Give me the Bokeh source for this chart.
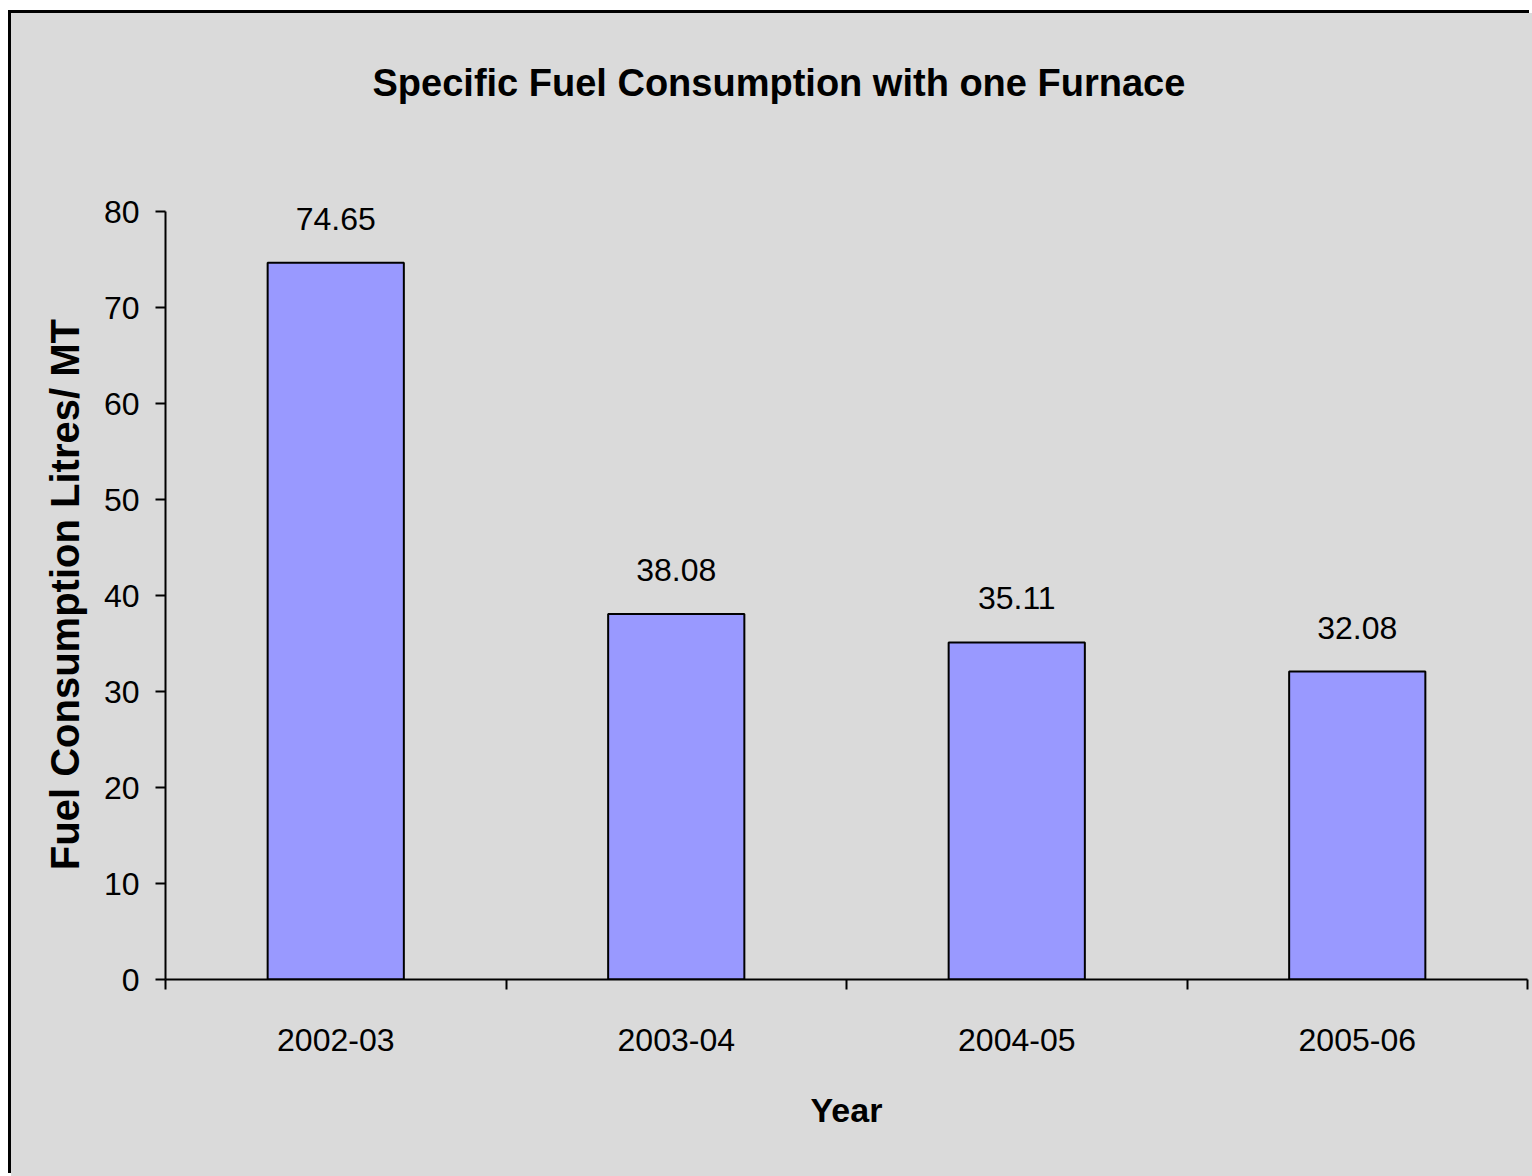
from bokeh.plotting import figure
from bokeh.models import (Range1d, LinearAxis, FixedTicker, ColumnDataSource, LabelSet,
                          CustomLabelingPolicy, Title)
from bokeh.core.properties import value
from bokeh.embed import file_html
from bokeh.resources import INLINE

years = ["2002-03", "2003-04", "2004-05", "2005-06"]
consumption = [74.65, 38.08, 35.11, 32.08]
y_ticks = [0, 10, 20, 30, 40, 50, 60, 70, 80]
title_text = "Specific Fuel Consumption with one Furnace"
x_title = "Year"
y_title = "Fuel Consumption Litres/ MT"

FONT = "Liberation Sans"
BG = "#DADADA"

# category centres on a numeric axis (category i occupies [i, i+1])
centres = [i + 0.5 for i in range(len(years))]
src = ColumnDataSource(dict(x=centres, val=consumption,
                            txt=[f"{v:.2f}" for v in consumption]))

p = figure(width=1521, height=1163, x_range=Range1d(0, len(years)), y_range=Range1d(0, 82.5),
           x_axis_location=None, y_axis_location="left",
           output_backend="svg", toolbar_location=None,
           min_border_left=154, min_border_right=5, min_border_top=174, min_border_bottom=197,
           background_fill_color=BG, border_fill_color=BG, outline_line_color=None,
           margin=(13, 0, 0, 11))
p.styles = {"box-shadow": "-3px -3px 0 0 black", "background-color": BG}
p.xgrid.visible = False
p.ygrid.visible = False

# spacer (nearest the frame) and real title above it
spacer = Title(text=" ", text_font_size="38px", standoff=40, text_color=BG)
p.add_layout(spacer, "above")
ttl = Title(text=title_text, align="left", offset=207, text_font=FONT,
            text_font_style="bold", text_font_size="38px", text_color="black", standoff=0)
p.add_layout(ttl, "above")

p.vbar(x="x", top="val", width=0.4, source=src, fill_color="#9999FF",
       line_color="black", line_width=2)

# y axis
ya = p.yaxis[0]
ya.ticker = FixedTicker(ticks=y_ticks)
ya.bounds = (0, 80)
ya.minor_tick_line_color = None
ya.major_tick_in = 0
ya.major_tick_out = 10
ya.major_tick_line_width = 2
ya.axis_line_width = 2
ya.major_label_text_font = FONT
ya.major_label_text_font_size = "32px"
ya.major_label_text_color = "black"
ya.major_label_standoff = 16
# two trailing no-break spaces keep the label centred on the 0-80 span
ya.axis_label = y_title + "\u00a0\u00a0"
ya.axis_label_text_font = FONT
ya.axis_label_text_font_style = "bold"
ya.axis_label_text_font_size = "40px"
ya.axis_label_text_color = "black"
ya.axis_label_standoff = 14

# x tick-mark axis (between categories), no labels
no_labels = CustomLabelingPolicy(code="""
const ids = [...indices];
for (const i of ids) indices.unset(i);
return indices;
""")
xa_ticks = LinearAxis(ticker=FixedTicker(ticks=list(range(len(years) + 1))),
                      major_tick_in=0, major_tick_out=10, major_tick_line_width=2,
                      axis_line_width=2, minor_tick_line_color=None,
                      major_label_policy=no_labels, major_label_standoff=0)
p.add_layout(xa_ticks, "below")

# x label axis (category names at centres)
xa = LinearAxis(ticker=FixedTicker(ticks=centres),
                major_label_overrides={c: y for c, y in zip(centres, years)},
                axis_line_color=None, major_tick_line_color=None,
                major_tick_in=0, major_tick_out=0, minor_tick_line_color=None,
                major_label_text_font=FONT, major_label_text_font_size="32px",
                major_label_text_color="black", major_label_standoff=28,
                axis_label=x_title, axis_label_text_font=FONT,
                axis_label_text_font_style="bold", axis_label_text_font_size="34px",
                axis_label_text_color="black", axis_label_standoff=37)
p.add_layout(xa, "below")

labels = LabelSet(x="x", y="val", text="txt", source=src, text_align="center",
                  text_baseline="alphabetic", y_offset=33, text_font=value(FONT),
                  text_font_size=value("32px"), text_color="black")
p.add_layout(labels)

open("out.html", "w").write(file_html(p, INLINE))
